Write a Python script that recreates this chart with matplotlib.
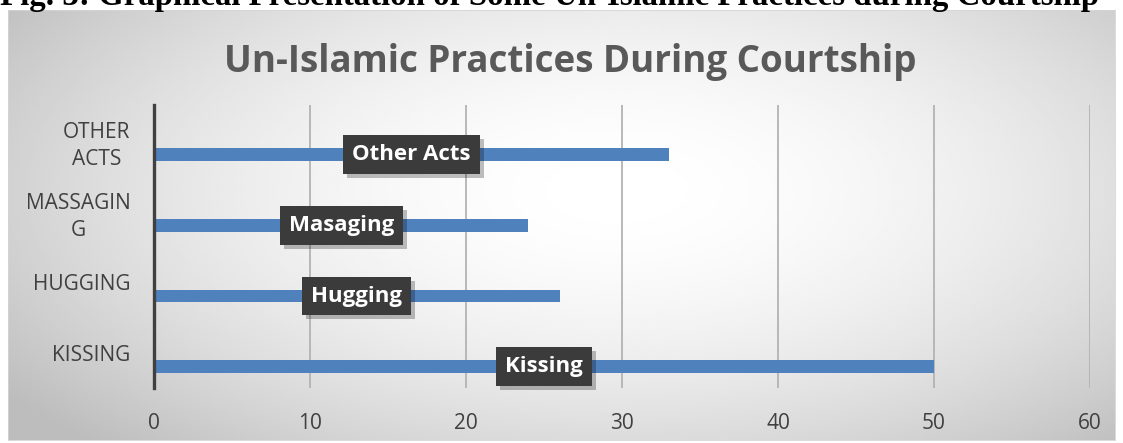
import numpy as np
import matplotlib
matplotlib.use("Agg")
import matplotlib.pyplot as plt
from matplotlib.transforms import ScaledTranslation

categories = ["KISSING", "HUGGING", "MASSAGIN\nG", "OTHER\nACTS"]
bar_labels = ["Kissing", "Hugging", "Masaging", "Other Acts"]
values = [50, 26, 24, 33]
xticks = [0, 10, 20, 30, 40, 50, 60]
title = "Un-Islamic Practices During Courtship"
caption = "Fig. 3: Graphical Presentation of Some Un-Islamic Practices during Courtship"

W, H = 1123, 443
fig = plt.figure(figsize=(W / 100, H / 100), dpi=100)
fig.patch.set_facecolor("white")

# Caption (cut off at the top)
fig.text(0.0, 1 - 4.5 / H, caption, family="Liberation Serif", weight="bold",
         fontsize=23.7, va="baseline", ha="left", color="black")

# Panel with radial gradient
px0, py0, px1, py1 = 8, 10, 1115, 440
bg = fig.add_axes([px0 / W, 1 - py1 / H, (px1 - px0) / W, (py1 - py0) / H], zorder=0)
nx, ny = 400, 160
xx, yy = np.meshgrid(np.linspace(0, 1, nx), np.linspace(0, 1, ny))
cx, cy = 0.55, 0.42
r = np.sqrt(((xx - cx) / 0.62) ** 2 + ((yy - cy) / 0.75) ** 2)
img = np.clip(1.0 - 0.22 * r ** 1.8, 0.74, 1.0)
bg.imshow(img, cmap="gray", vmin=0, vmax=1, aspect="auto", extent=[0, 1, 0, 1],
          origin="upper", interpolation="bilinear")
bg.set_xticks([]); bg.set_yticks([])
for s in bg.spines.values():
    s.set_color("#d4d4d4"); s.set_linewidth(0.6)

# Title
fig.text(570 / W, 1 - 62 / H, title, family="Open Sans", weight="bold",
         fontsize=26.5, color="#595959", ha="center", va="center", zorder=5)

# Main axes
ax_l, ax_r, ax_t, ax_b = 154, 1090, 105, 388
ax = fig.add_axes([ax_l / W, 1 - ax_b / H, (ax_r - ax_l) / W, (ax_b - ax_t) / H], zorder=2)
ax.set_facecolor("none")

pos = np.arange(len(categories))
bar_pos = pos - 0.2
ax.barh(bar_pos, values, height=0.18, color="#4f81bd", zorder=3)

ax.set_xlim(0, 60)
ax.set_ylim(-0.5, 3.5)
ax.set_xticks(xticks)
ax.set_xticklabels([str(t) for t in xticks])
ax.set_yticks(pos)
ax.set_yticklabels(categories)
for lbl in ax.get_yticklabels():
    lbl.set_multialignment("center")
    lbl.set_linespacing(1.4)

ax.grid(axis="x", color="#b3b3b3", linewidth=1.3, zorder=1)
ax.set_axisbelow(True)
for name in ["top", "right", "bottom"]:
    ax.spines[name].set_visible(False)
ax.spines["left"].set_color("#404040")
ax.spines["left"].set_linewidth(2.4)
ax.spines["left"].set_zorder(4)

ax.tick_params(axis="both", length=0, labelsize=15, labelcolor="#404040")
ax.tick_params(axis="x", pad=18)
ax.tick_params(axis="y", pad=17)
for lbl in ax.get_xticklabels() + ax.get_yticklabels():
    lbl.set_family("Open Sans")

# Data labels with shadow
shadow_tr = ax.transData + ScaledTranslation(4 / 100, -4 / 100, fig.dpi_scale_trans)
for v, y, lab in zip(values, bar_pos, bar_labels):
    ax.text(v / 2, y, lab, transform=shadow_tr, ha="center", va="center",
            fontsize=16, weight="bold", family="Open Sans", color=(0, 0, 0, 0),
            bbox=dict(boxstyle="square,pad=0.4", fc=(0, 0, 0, 0.25), ec="none"), zorder=5)
    ax.text(v / 2, y, lab, ha="center", va="center", fontsize=16, weight="bold",
            family="Open Sans", color="white",
            bbox=dict(boxstyle="square,pad=0.4", fc="#3b3b3b", ec="none"), zorder=6)

fig.savefig("out.png", dpi=100, facecolor="white")
